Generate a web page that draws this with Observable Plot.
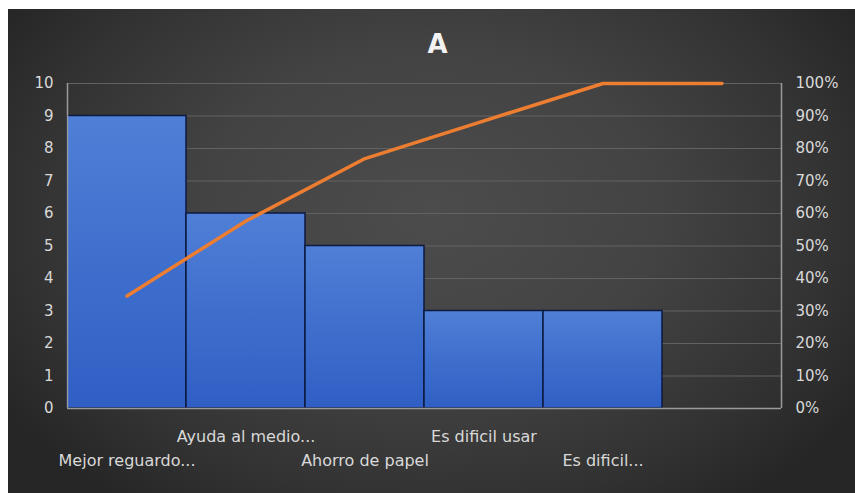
<!DOCTYPE html>
<html>
<head>
<meta charset="utf-8">
<script src="https://cdn.jsdelivr.net/npm/d3@7"></script>
<script src="https://cdn.jsdelivr.net/npm/@observablehq/plot@0.6"></script>
<style>
  html, body { margin: 0; padding: 0; background: #ffffff; }
  #panel {
    position: absolute; left: 8px; top: 9px; width: 847px; height: 484px;
    background: radial-gradient(ellipse 60% 75% at 50% 42%, #4c4c4c 0%, #434343 45%, #323232 80%, #262626 100%);
    overflow: hidden;
  }
  #title {
    position: absolute; left: 0; top: 20px; width: 100%; text-align: center;
    padding-left: 12px; box-sizing: border-box;
    font-family: "DejaVu Sans", sans-serif; font-weight: 700; font-size: 26px; color: #f2f2f2;
  }
  #chart { position: absolute; left: 0; top: 0; }
</style>
</head>
<body>
<div id="panel">
  <div id="chart"></div>
  <div id="title">A</div>
</div>
<script>
const categories = ["Mejor reguardo...", "Ayuda al medio...", "Ahorro de papel", "Es dificil usar", "Es dificil...", ""];
const counts = [9, 6, 5, 3, 3, 0];
const cumulativePct = [34.6, 57.7, 76.9, 88.5, 100, 100];
const leftTicks = [0, 1, 2, 3, 4, 5, 6, 7, 8, 9, 10];
const rightTickLabels = ["0%", "10%", "20%", "30%", "40%", "50%", "60%", "70%", "80%", "90%", "100%"];

const rows = categories.map((c, i) => ({cat: c, count: counts[i], pct: cumulativePct[i], idx: i}));
const upperRow = rows.filter(d => d.idx % 2 === 1);
const lowerRow = rows.filter(d => d.idx % 2 === 0);
const font = "'DejaVu Sans', sans-serif";
const half = 714 / categories.length / 2;

const plot = Plot.plot({
  width: 847,
  height: 484,
  marginLeft: 59,
  marginRight: 74,
  marginTop: 74,
  marginBottom: 85,
  style: {background: "transparent", fontFamily: font, fontSize: "15px", color: "#d9d9d9"},
  x: {type: "band", domain: categories, padding: 0, axis: null},
  y: {domain: [0, 10], axis: null},
  marks: [
    Plot.gridY(leftTicks.filter(t => t > 0), {stroke: "#626262", strokeOpacity: 1, strokeWidth: 1}),
    Plot.barY(rows, {x: "cat", y: "count", fill: "url(#barGrad)", stroke: "#0c1a40", strokeWidth: 1.5}),
    Plot.ruleY([0], {stroke: "#9a9a9a", strokeWidth: 1.5}),
    Plot.ruleX([categories[0]], {x: d => d, y1: 0, y2: 10, stroke: "#9a9a9a", strokeWidth: 1.5, dx: -half}),
    Plot.ruleX([categories[categories.length - 1]], {x: d => d, y1: 0, y2: 10, stroke: "#9a9a9a", strokeWidth: 1.5, dx: half}),
    Plot.axisY(leftTicks, {anchor: "left", label: null, tickSize: 0, tickPadding: 14, fill: "#d9d9d9", fontSize: 15}),
    Plot.axisY(leftTicks, {anchor: "right", label: null, tickSize: 0, tickPadding: 14, fill: "#d9d9d9", fontSize: 15, tickFormat: d => rightTickLabels[d]}),
    Plot.line(rows, {x: "cat", y: d => d.pct / 10, stroke: "#ED7D31", strokeWidth: 3.5}),
    Plot.text(upperRow, {x: "cat", text: "cat", frameAnchor: "bottom", dy: 28, fill: "#d9d9d9", fontSize: 16, lineAnchor: "middle"}),
    Plot.text(lowerRow, {x: "cat", text: "cat", frameAnchor: "bottom", dy: 52, fill: "#d9d9d9", fontSize: 16, lineAnchor: "middle"})
  ]
});

const svg = d3.select(plot);
svg.insert("defs", ":first-child").html(
  '<linearGradient id="barGrad" x1="0" y1="0" x2="0" y2="1">' +
  '<stop offset="0%" stop-color="#4f7fd6"/>' +
  '<stop offset="100%" stop-color="#2f5fc4"/>' +
  '</linearGradient>'
);
document.getElementById("chart").appendChild(plot);
</script>
</body>
</html>
